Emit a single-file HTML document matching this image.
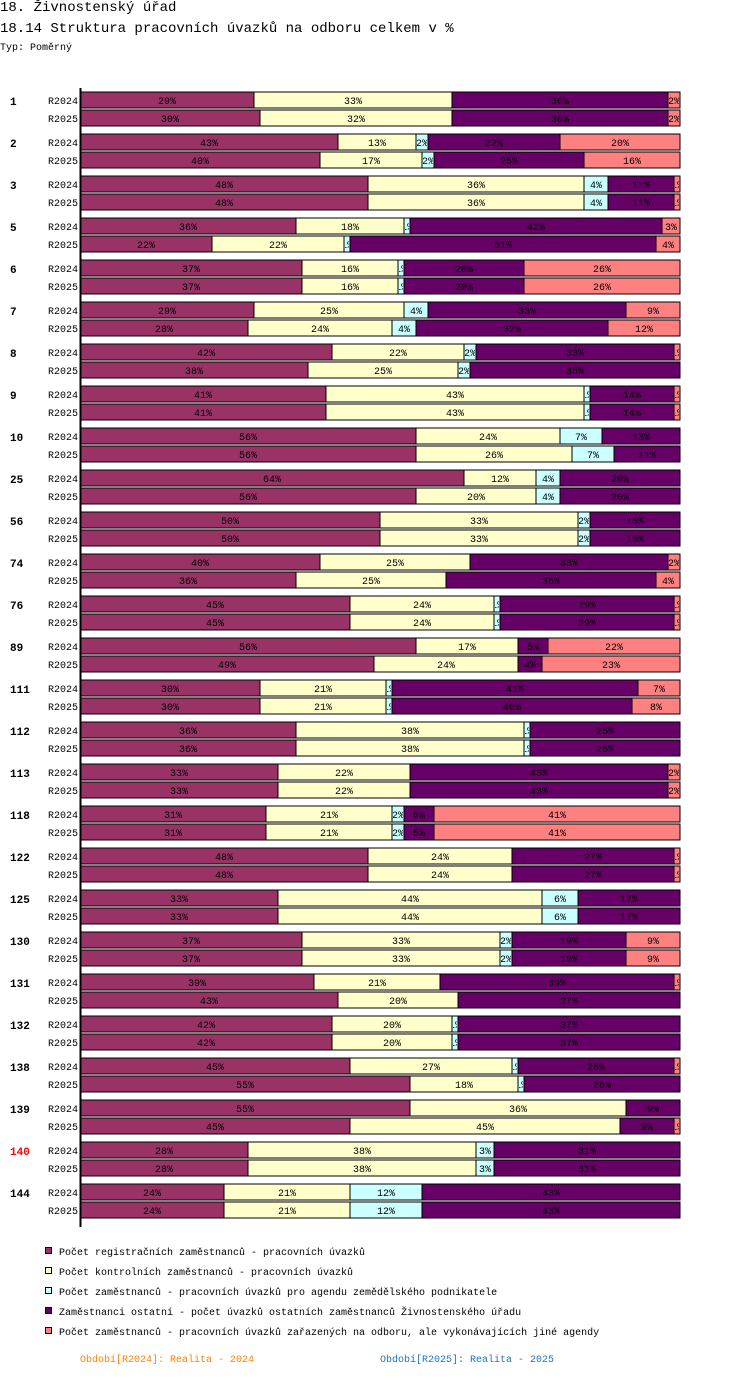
<!DOCTYPE html>
<html><head><meta charset="utf-8"><style>
body{margin:0;background:#fff;width:750px;height:1396px;overflow:hidden;font-family:"Liberation Mono",monospace}
.t{position:absolute;left:0;white-space:nowrap;color:#000}
</style></head><body>
<div class="t" style="top:0;font-size:14px;">18. Živnostenský úřad</div>
<div class="t" style="top:21px;font-size:14px;">18.14 Struktura pracovních úvazků na odboru celkem v %</div>
<div class="t" style="top:43px;font-size:10px;">Typ: Poměrný</div>
<svg id="c" width="750" height="1396" style="position:absolute;left:0;top:0" font-family="Liberation Mono, monospace"></svg>
<script>
const groups=["1","2","3","5","6","7","8","9","10","25","56","74","76","89","111","112","113","118","122","125","130","131","132","138","139","140","144"];
const periods=["R2024","R2025"];
const colors=["#993366","#ffffcc","#ccffff","#660066","#ff8080"];
const seriesNames=["Počet registračních zaměstnanců - pracovních úvazků","Počet kontrolních zaměstnanců - pracovních úvazků","Počet zaměstnanců - pracovních úvazků pro agendu zemědělského podnikatele","Zaměstnanci ostatní - počet úvazků ostatních zaměstnanců Živnostenského úřadu","Počet zaměstnanců - pracovních úvazků zařazených na odboru, ale vykonávajících jiné agendy"];
const v2024=[[29,33,0,36,2],[43,13,2,22,20],[48,36,4,11,1],[36,18,1,42,3],[37,16,1,20,26],[29,25,4,33,9],[42,22,2,33,1],[41,43,1,14,1],[56,24,7,13,0],[64,12,4,20,0],[50,33,2,15,0],[40,25,0,33,2],[45,24,1,29,1],[56,17,0,5,22],[30,21,1,41,7],[36,38,1,25,0],[33,22,0,43,2],[31,21,2,5,41],[48,24,0,27,1],[33,44,6,17,0],[37,33,2,19,9],[39,21,0,39,1],[42,20,1,37,0],[45,27,1,26,1],[55,36,0,9,0],[28,38,3,31,0],[24,21,12,43,0]];
const v2025=[[30,32,0,36,2],[40,17,2,25,16],[48,36,4,11,1],[22,22,1,51,4],[37,16,1,20,26],[28,24,4,32,12],[38,25,2,35,0],[41,43,1,14,1],[56,26,7,11,0],[56,20,4,20,0],[50,33,2,15,0],[36,25,0,35,4],[45,24,1,29,1],[49,24,0,4,23],[30,21,1,40,8],[36,38,1,25,0],[33,22,0,43,2],[31,21,2,5,41],[48,24,0,27,1],[33,44,6,17,0],[37,33,2,19,9],[43,20,0,37,0],[42,20,1,37,0],[55,18,1,26,0],[45,45,0,9,1],[28,38,3,31,0],[24,21,12,43,0]];
const svg=document.getElementById('c');const NS="http://www.w3.org/2000/svg";
function mk(t,a){const e=document.createElementNS(NS,t);for(const k in a)e.setAttribute(k,a[k]);svg.appendChild(e);return e;}
const X0=80,W=600,Y0=92,GP=42;
const xs=p=>X0+p/100*W;
const gy=i=>Y0+i*GP;
const defs=mk('defs',{});
groups.forEach((g,i)=>{
  const gl=mk('text',{x:10,y:gy(i)+13,'font-size':11,'font-weight':'bold',fill:g==="140"?"#ff0000":"#000"});gl.textContent=g;
  
  
  [v2024,v2025].forEach((arr,r)=>{
    const vals=arr[i];const sum=vals.reduce((a,b)=>a+b,0);
    const y=gy(i)+r*18;
    const pl=mk('text',{x:78,y:y+12,'font-size':10,'text-anchor':'end',fill:'#000'});pl.textContent=periods[r];
    
    
    let acc=0;
    vals.forEach((v,s)=>{
      if(v<=0)return;
      const x1=xs(acc/sum*100),x2=xs((acc+v)/sum*100);acc+=v;
      const rc=mk('rect',{x:x1,y:y,width:x2-x1,height:16,fill:colors[s],stroke:'#000','stroke-width':1});
      
      
      const id='cp'+i+'_'+r+'_'+s;
      const cp=document.createElementNS(NS,'clipPath');cp.setAttribute('id',id);
      const cr=document.createElementNS(NS,'rect');cr.setAttribute('x',x1+1);cr.setAttribute('y',y);cr.setAttribute('width',Math.max(0,x2-x1-2));cr.setAttribute('height',16);cp.appendChild(cr);defs.appendChild(cp);
      const tx=mk('text',{x:(x1+x2)/2,y:y+12,'font-size':10,'text-anchor':'middle',fill:'#000','clip-path':'url(#'+id+')'});tx.textContent=v+'%';
      
      
    });
  });
});
const ax=mk('line',{x1:80.5,y1:88,x2:80.5,y2:1227,stroke:'#000','stroke-width':2});


seriesNames.forEach((n,s)=>{
  const y=1247+s*20;
  const r=mk('rect',{x:45.5,y:y+0.5,width:6,height:6,fill:colors[s],stroke:'#000'});
  
  
  const t=mk('text',{x:59,y:y+8,'font-size':10,fill:'#000'});t.textContent=n;
  
  
});
const p1=mk('text',{x:80,y:1362,'font-size':10,fill:'#ff8000'});p1.textContent='Období[R2024]: Realita - 2024';


const p2=mk('text',{x:380,y:1362,'font-size':10,fill:'#1a75c0'});p2.textContent='Období[R2025]: Realita - 2025';


</script>
</body></html>
